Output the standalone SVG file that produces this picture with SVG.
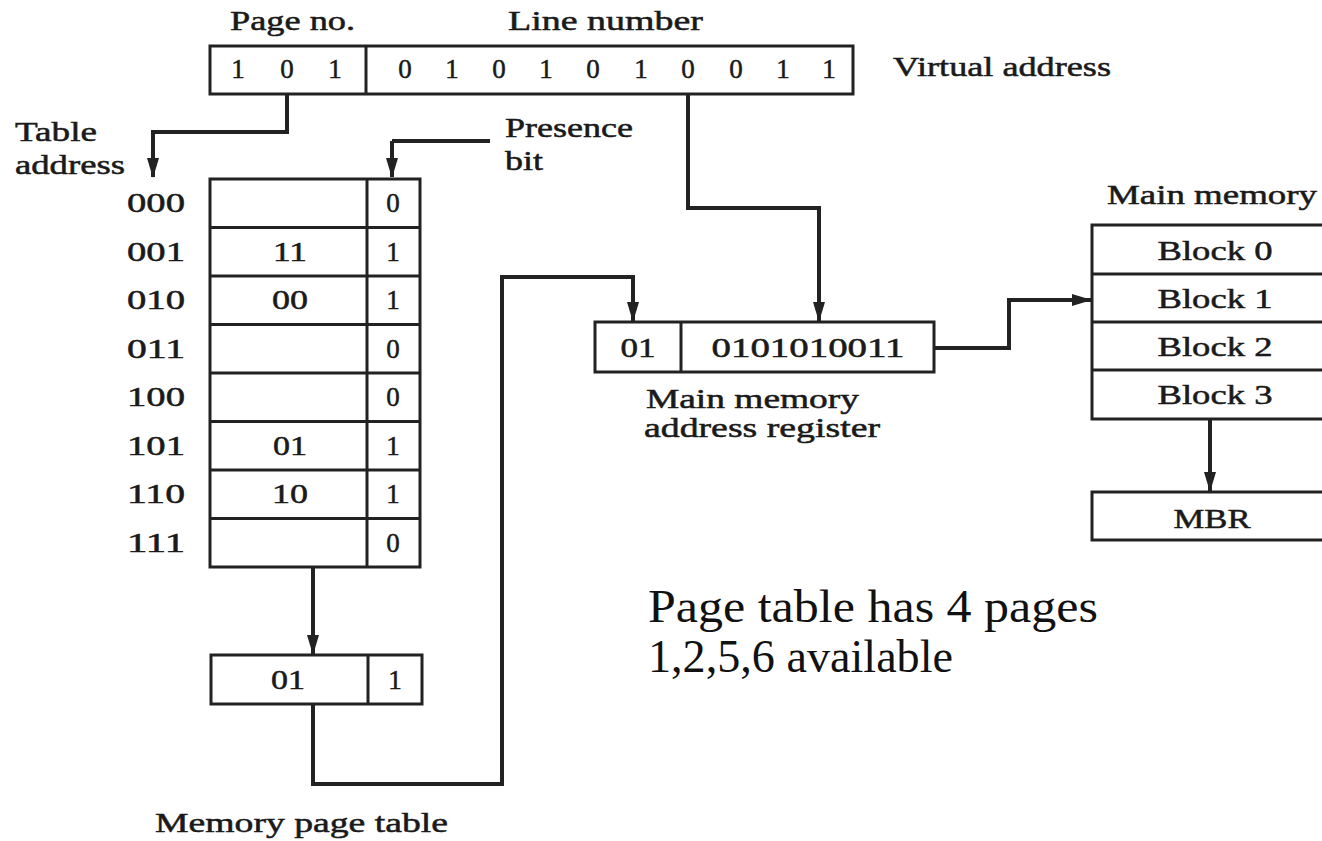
<svg xmlns="http://www.w3.org/2000/svg" width="1322" height="841" viewBox="0 0 1322 841">
<defs>
<style>
.t{font-family:"Liberation Serif","Times New Roman",serif;font-size:27px;fill:#1a1a1a;stroke:#1a1a1a;stroke-width:0.5;}
.m{text-anchor:middle;}
.box{fill:#fff;stroke:#222;stroke-width:3;}
.ln{stroke:#222;stroke-width:3;fill:none;}
.c{stroke:#222;stroke-width:4;fill:none;marker-end:url(#ah);}
.c2{stroke:#222;stroke-width:4;fill:none;}
.big{font-family:"Liberation Serif","Times New Roman",serif;font-size:46px;fill:#111;}
</style>
<marker id="ah" markerUnits="userSpaceOnUse" markerWidth="20" markerHeight="12" refX="19" refY="6" orient="auto">
<path d="M0,0 L20,6 L0,12 z" fill="#222"/>
</marker>
</defs>
<rect width="1322" height="841" fill="#fff"/>

<g id="connectors">
<path class="c" d="M287,95 V132 H153 V177"/>
<path class="c2" d="M490,141 H392"/>
<path class="c" d="M392,141 V177"/>
<path class="c" d="M688,94 V208 H819 V321"/>
<path class="c" d="M313,567 V654"/>
<path class="c" d="M313,704 V784 H502 V277 H633 V321"/>
<path class="c" d="M934,348 H1009 V300 H1091"/>
<path class="c" d="M1210,419 V491"/>
</g>

<g id="virtual-address">
<rect class="box" x="210" y="46" width="643" height="48"/>
<line class="ln" x1="366" y1="46" x2="366" y2="94"/>
<text class="t" x="230" y="30" textLength="125" lengthAdjust="spacingAndGlyphs">Page no.</text>
<text class="t" x="508" y="30" textLength="195" lengthAdjust="spacingAndGlyphs">Line number</text>
<text class="t m" x="238" y="78">1</text>
<text class="t m" x="287" y="78">0</text>
<text class="t m" x="335" y="78">1</text>
<text class="t m" x="405" y="78">0</text>
<text class="t m" x="452" y="78">1</text>
<text class="t m" x="499" y="78">0</text>
<text class="t m" x="546" y="78">1</text>
<text class="t m" x="593" y="78">0</text>
<text class="t m" x="641" y="78">1</text>
<text class="t m" x="688" y="78">0</text>
<text class="t m" x="736" y="78">0</text>
<text class="t m" x="783" y="78">1</text>
<text class="t m" x="829" y="78">1</text>
<text class="t" x="893" y="76" textLength="218" lengthAdjust="spacingAndGlyphs">Virtual address</text>
</g>

<g id="table-address-label">
<text class="t" x="15" y="141" textLength="82" lengthAdjust="spacingAndGlyphs">Table</text>
<text class="t" x="15" y="174" textLength="110" lengthAdjust="spacingAndGlyphs">address</text>
</g>

<g id="presence-bit-label">
<text class="t" x="505" y="137" textLength="128" lengthAdjust="spacingAndGlyphs">Presence</text>
<text class="t" x="505" y="170" textLength="38" lengthAdjust="spacingAndGlyphs">bit</text>
</g>

<g id="page-table">
<rect class="box" x="210" y="179" width="210" height="388"/>
<line class="ln" x1="367" y1="179" x2="367" y2="567"/>
<line class="ln" x1="210" y1="227.5" x2="420" y2="227.5"/>
<line class="ln" x1="210" y1="276" x2="420" y2="276"/>
<line class="ln" x1="210" y1="324.5" x2="420" y2="324.5"/>
<line class="ln" x1="210" y1="373" x2="420" y2="373"/>
<line class="ln" x1="210" y1="421.5" x2="420" y2="421.5"/>
<line class="ln" x1="210" y1="470" x2="420" y2="470"/>
<line class="ln" x1="210" y1="518.5" x2="420" y2="518.5"/>
<text class="t m" x="156" y="212" textLength="58" lengthAdjust="spacingAndGlyphs">000</text>
<text class="t m" x="156" y="261" textLength="58" lengthAdjust="spacingAndGlyphs">001</text>
<text class="t m" x="156" y="309" textLength="58" lengthAdjust="spacingAndGlyphs">010</text>
<text class="t m" x="156" y="358" textLength="58" lengthAdjust="spacingAndGlyphs">011</text>
<text class="t m" x="156" y="406" textLength="58" lengthAdjust="spacingAndGlyphs">100</text>
<text class="t m" x="156" y="455" textLength="58" lengthAdjust="spacingAndGlyphs">101</text>
<text class="t m" x="156" y="503" textLength="58" lengthAdjust="spacingAndGlyphs">110</text>
<text class="t m" x="156" y="552" textLength="58" lengthAdjust="spacingAndGlyphs">111</text>
<text class="t m" x="290" y="261" textLength="34" lengthAdjust="spacingAndGlyphs">11</text>
<text class="t m" x="290" y="309" textLength="36" lengthAdjust="spacingAndGlyphs">00</text>
<text class="t m" x="290" y="455" textLength="34" lengthAdjust="spacingAndGlyphs">01</text>
<text class="t m" x="290" y="503" textLength="36" lengthAdjust="spacingAndGlyphs">10</text>
<text class="t m" x="393" y="212">0</text>
<text class="t m" x="393" y="261">1</text>
<text class="t m" x="393" y="309">1</text>
<text class="t m" x="393" y="358">0</text>
<text class="t m" x="393" y="406">0</text>
<text class="t m" x="393" y="455">1</text>
<text class="t m" x="393" y="503">1</text>
<text class="t m" x="393" y="552">0</text>
</g>

<g id="table-entry">
<rect class="box" x="211" y="655" width="211" height="49"/>
<line class="ln" x1="368" y1="655" x2="368" y2="704"/>
<text class="t m" x="288" y="689" textLength="34" lengthAdjust="spacingAndGlyphs">01</text>
<text class="t m" x="395" y="689">1</text>
</g>

<g id="memory-page-table-label">
<text class="t" x="155" y="832" textLength="293" lengthAdjust="spacingAndGlyphs">Memory page table</text>
</g>

<g id="mar">
<rect class="box" x="595" y="322" width="339" height="50"/>
<line class="ln" x1="681" y1="322" x2="681" y2="372"/>
<text class="t m" x="638" y="357" textLength="35" lengthAdjust="spacingAndGlyphs">01</text>
<text class="t m" x="808" y="357" textLength="193" lengthAdjust="spacingAndGlyphs">0101010011</text>
<text class="t" x="646" y="408" textLength="213" lengthAdjust="spacingAndGlyphs">Main memory</text>
<text class="t" x="644" y="437" textLength="236" lengthAdjust="spacingAndGlyphs">address register</text>
</g>

<g id="main-memory">
<text class="t" x="1107" y="204" textLength="210" lengthAdjust="spacingAndGlyphs">Main memory</text>
<rect class="box" x="1092" y="225" width="240" height="194"/>
<line class="ln" x1="1092" y1="274" x2="1332" y2="274"/>
<line class="ln" x1="1092" y1="322" x2="1332" y2="322"/>
<line class="ln" x1="1092" y1="370" x2="1332" y2="370"/>
<text class="t m" x="1215" y="260" textLength="115" lengthAdjust="spacingAndGlyphs">Block 0</text>
<text class="t m" x="1215" y="308" textLength="115" lengthAdjust="spacingAndGlyphs">Block 1</text>
<text class="t m" x="1215" y="356" textLength="115" lengthAdjust="spacingAndGlyphs">Block 2</text>
<text class="t m" x="1215" y="404" textLength="115" lengthAdjust="spacingAndGlyphs">Block 3</text>
</g>

<g id="mbr">
<rect class="box" x="1092" y="492" width="240" height="48"/>
<text class="t m" x="1212" y="528" textLength="77" lengthAdjust="spacingAndGlyphs">MBR</text>
</g>

<g id="note">
<text class="big" x="648" y="622" textLength="450" lengthAdjust="spacingAndGlyphs">Page table has 4 pages</text>
<text class="big" x="648" y="672" textLength="305" lengthAdjust="spacingAndGlyphs">1,2,5,6 available</text>
</g>
</svg>
